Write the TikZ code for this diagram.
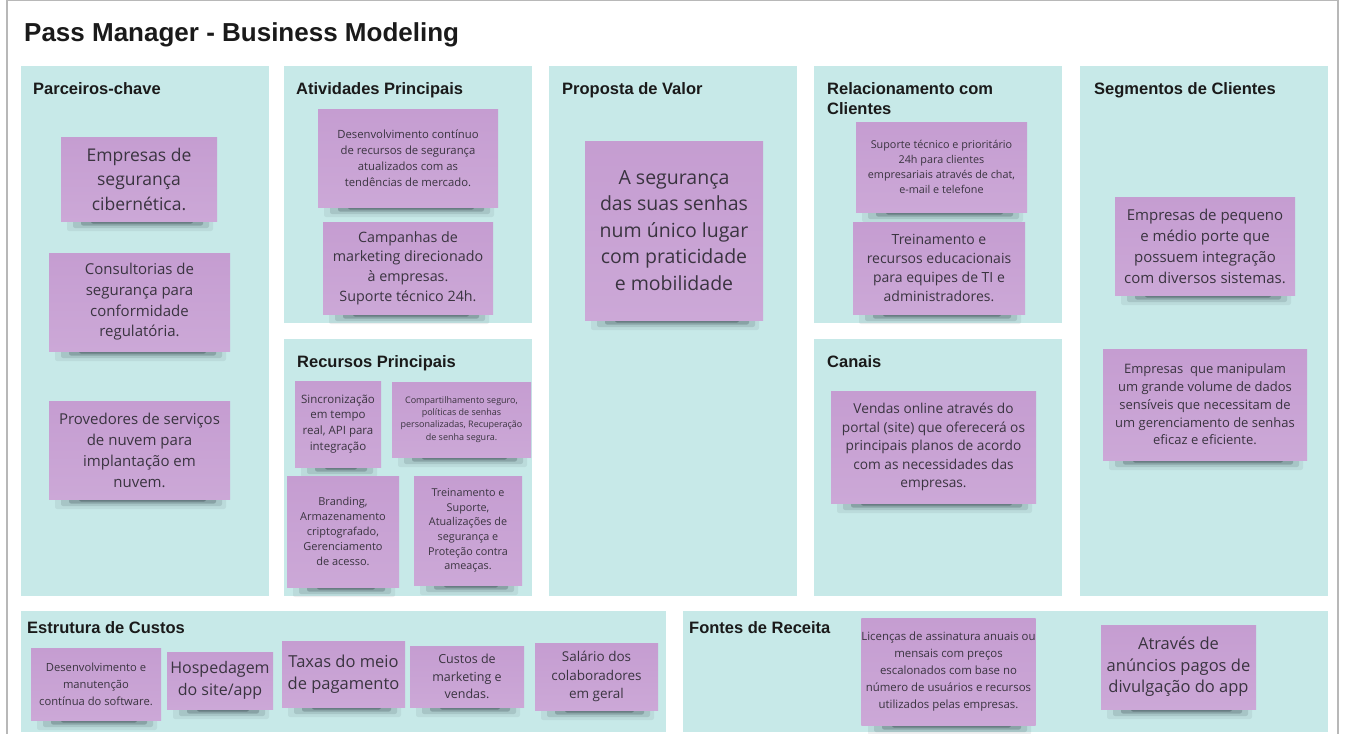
\documentclass[tikz,border=0pt]{standalone}
\usepackage{fontspec}
\setmainfont{Liberation Sans}
\newfontfamily\osans{Open Sans}
\definecolor{panelc}{HTML}{C7E9E8}
\definecolor{sticktop}{HTML}{C59DD1}
\definecolor{stickbot}{HTML}{CCA8D7}
\definecolor{shadowc}{HTML}{1E2A33}
\definecolor{stext}{HTML}{3A3440}
\definecolor{ttext}{HTML}{1A1A1A}
\definecolor{framec}{HTML}{B8B8B8}
\tikzset{
  panel/.style={fill=panelc},
  ptitle/.style={anchor=base west,inner sep=0pt,text=ttext,font=\fontsize{16.5}{20}\selectfont\bfseries,align=left},
  stickybox/.style={top color=sticktop,bottom color=stickbot,inner sep=0pt,align=center,text=stext},
  shadowlayer/.style={fill=shadowc,rounded corners=2pt},
}
\newcommand\sticky[8]{%
  \fill[shadowlayer,opacity=0.07] (#2+6,#5-3) rectangle (#4-4,#5+10);
  \fill[shadowlayer,opacity=0.12] (#2+12,#5-3) rectangle (#4-8,#5+7);
  \fill[shadowlayer,opacity=0.22] (#2+20,#5-3) rectangle (#4-14,#5+4.5);
  \fill[shadowlayer,opacity=0.30] (#2+30,#5-3) rectangle (#4-24,#5+2.5);
  \node[stickybox,minimum width={#4-#2},minimum height={#5-#3},
        font=\osans\fontsize{#6}{#7}\selectfont] (#1) at ({(#2+#4)/2},{(#3+#5)/2}) {#8};
}
\begin{document}
\begin{tikzpicture}[x=1pt,y=-1pt]
\useasboundingbox (0,0) rectangle (1345,734);
\fill[white] (0,0) rectangle (1345,734);
\draw[framec,line width=1.2pt] (7,0.5) -- (1338,0.5) (7,0) -- (7,734) (1338,0) -- (1338,734);
\node[anchor=base west,inner sep=0pt,text=ttext,font=\fontsize{26}{30}\selectfont\bfseries] (title) at (24,41) {Pass Manager - Business Modeling};
% panels
\fill[panel] (21,66) rectangle (269,596);
\fill[panel] (284,66) rectangle (532,323);
\fill[panel] (284,339) rectangle (532,596);
\fill[panel] (549,66) rectangle (797,596);
\fill[panel] (814,66) rectangle (1062,323);
\fill[panel] (814,339) rectangle (1062,596);
\fill[panel] (1080,66) rectangle (1328,596);
\fill[panel] (21,611) rectangle (666,732);
\fill[panel] (683,611) rectangle (1328,732);
% titles
\node[ptitle] (t1) at (33,94) {Parceiros-chave};
\node[ptitle] (t2) at (296,94) {Atividades Principais};
\node[ptitle] (t3) at (297,367) {Recursos Principais};
\node[ptitle] (t4) at (562,94) {Proposta de Valor};
\node[ptitle] (t5a) at (827,94) {Relacionamento com};
\node[ptitle] (t5b) at (827,114) {Clientes};
\node[ptitle] (t6) at (827,367) {Canais};
\node[ptitle] (t7) at (1094,94) {Segmentos de Clientes};
\node[ptitle] (t8) at (27,633) {Estrutura de Custos};
\node[ptitle] (t9) at (689,633) {Fontes de Receita};
% Parceiros
\sticky{s1}{61}{137}{217}{221}{17.5}{24.5}{Empresas de\\segurança\\cibernética.}
\sticky{s2}{49}{253}{230}{351}{15}{20.7}{Consultorias de\\segurança para\\conformidade\\regulatória.}
\sticky{s3}{49}{401}{230}{499}{15}{21}{Provedores de serviços\\de nuvem para\\implantação em\\nuvem.}
% Atividades
\sticky{s4}{318}{109}{498}{207}{11.3}{16}{Desenvolvimento contínuo\\de recursos de segurança\\atualizados com as\\tendências de mercado.}
\sticky{s5}{323}{222}{493}{314}{14.3}{19.7}{Campanhas de\\marketing direcionado\\à empresas.\\Suporte técnico 24h.}
% Recursos
\sticky{s6}{295}{381}{381}{467}{11.5}{15.7}{Sincronização\\em tempo\\real, API para\\integração}
\sticky{s7}{392}{382}{531}{457}{9}{12.3}{Compartilhamento seguro,\\políticas de senhas\\personalizadas, Recuperação\\de senha segura.}
\sticky{s8}{287}{476}{399}{587}{11}{15}{Branding,\\Armazenamento\\criptografado,\\Gerenciamento\\de acesso.}
\sticky{s9}{414}{476}{522}{585}{10.8}{14.6}{Treinamento e\\Suporte,\\Atualizações de\\segurança e\\Proteção contra\\ameaças.}
% Proposta
\sticky{s10}{585}{141}{763}{320}{19.5}{26.5}{A segurança\\das suas senhas\\num único lugar\\com praticidade\\e mobilidade}
% Relacionamento
\sticky{s11}{856}{122}{1027}{212}{10.8}{15}{Suporte técnico e prioritário\\24h para clientes\\empresariais através de chat,\\e-mail e telefone}
\sticky{s12}{853}{222}{1025}{314}{14}{19.3}{Treinamento e\\recursos educacionais\\para equipes de TI e\\administradores.}
% Canais
\sticky{s13}{831}{391}{1036}{503}{13.7}{18.6}{Vendas online através do\\portal (site) que oferecerá os\\principais planos de acordo\\com as necessidades das\\empresas.}
% Segmentos
\sticky{s14}{1115}{197}{1295}{295}{15}{21}{Empresas de pequeno\\e médio porte que\\possuem integração\\com diversos sistemas.}
\sticky{s15}{1103}{349}{1307}{460}{13}{17.7}{Empresas\ \ que manipulam\\um grande volume de dados\\sensíveis que necessitam de\\um gerenciamento de senhas\\eficaz e eficiente.}
% Custos
\sticky{s16}{31}{648}{161}{720}{11.2}{17}{Desenvolvimento e\\manutenção\\contínua do software.}
\sticky{s17}{167}{652}{273}{709}{16}{22}{Hospedagem\\do site/app}
\sticky{s18}{282}{641}{405}{707}{16.5}{22}{Taxas do meio\\de pagamento}
\sticky{s19}{410}{646}{524}{707}{12.5}{17.5}{Custos de\\marketing e\\vendas.}
\sticky{s20}{535}{643}{658}{710}{13.5}{18.5}{Salário dos\\colaboradores\\em geral}
% Receita
\sticky{s21}{862}{618}{1035}{725}{11.4}{17}{Licenças de assinatura anuais ou\\mensais com preços\\escalonados com base no\\número de usuários e recursos\\utilizados pelas empresas.}
\sticky{s22}{1101}{625}{1256}{709}{16.5}{21.5}{Através de\\anúncios pagos de\\divulgação do app}
\end{tikzpicture}
\end{document}
